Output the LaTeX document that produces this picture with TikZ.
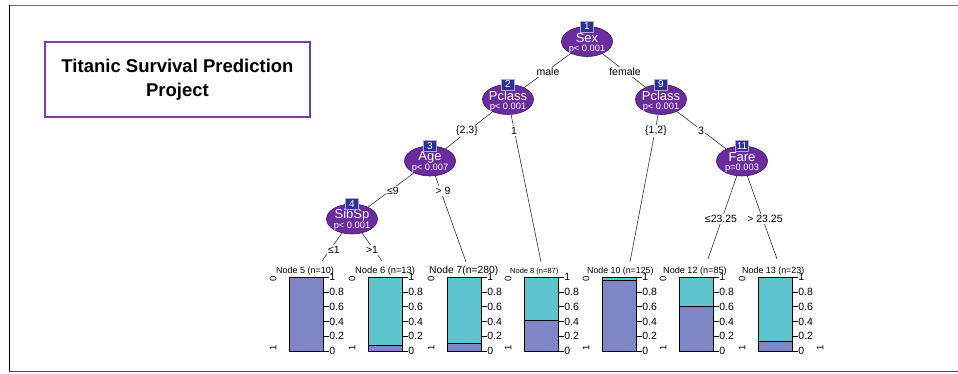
\documentclass[tikz,border=0pt]{standalone}
\usepackage{fontspec}
\setmainfont{Liberation Sans}
\usetikzlibrary{shapes.geometric}
\pgfdeclarelayer{bg}
\pgfsetlayers{bg,main}
\definecolor{nodepurple}{HTML}{6A2C9E}
\definecolor{nodeedge}{HTML}{3A1560}
\definecolor{numblue}{HTML}{2E3192}
\definecolor{barpurple}{HTML}{7F86C6}
\definecolor{barteal}{HTML}{5EC5CE}
\definecolor{titlepurple}{HTML}{7A3DAA}
\tikzset{
  splitnode/.style={ellipse, fill=nodepurple, draw=nodeedge, line width=0.6, minimum width=51, minimum height=30, inner sep=0},
  vartext/.style={inner sep=0, text=white, font=\fontsize{13}{13}\selectfont},
  ptext/.style={inner sep=0, text=white, font=\fontsize{9.3}{9.3}\selectfont},
  numbox/.style={rectangle, fill=numblue, draw=white!60!numblue, line width=0.5, minimum width=13, minimum height=11, inner sep=1, text=white, font=\fontsize{10}{10}\selectfont},
  edgeline/.style={draw=black!80, line width=0.6},
  edgelabel/.style={fill=white, inner sep=1, font=\fontsize{10.5}{11}\selectfont},
  ticklabel/.style={anchor=west, inner sep=0.5, font=\fontsize{10.5}{11}\selectfont},
  axislabel/.style={rotate=90, inner sep=0, font=\fontsize{9.5}{9.5}\selectfont},
}
\newcommand\splitn[6]{% name, x, y, number, variable, p-value
  \node[splitnode] (#1) at (#2,#3) {};
  \node[vartext] (#1var) at (#2,{#3-3.5}) {#5};
  \node[ptext] (#1p) at (#2,{#3+7.5}) {#6};
  \node[numbox] (#1num) at (#2,{#3-15}) {#4};
}
\newcommand\barpanel[6]{% left x, purple fraction, title, title left x, title size, name
  \fill[barteal] (#1,277) rectangle ++(34,74);
  \fill[barpurple] (#1,351) rectangle ++(34,{-74*#2});
  \draw[line width=0.7] (#1,{351-74*#2}) -- ++(34,0);
  \draw[line width=0.7] (#1,277) rectangle ++(34,74);
  \foreach \v in {0,0.2,0.4,0.6,0.8,1} {
    \draw[line width=0.6] ({#1+34},{351-74*\v}) -- ++(5.5,0) node[ticklabel] {\v};
  }
  \node[anchor=base west, inner sep=0, font=\fontsize{#5}{#5}\selectfont] (#6) at (#4,273.5) {#3};
  \node[axislabel] (#6zero) at ({#1-16},278.5) {0};
  \node[axislabel] (#6one) at ({#1-16},348) {1};
}
\begin{document}
\begin{tikzpicture}[x=1pt,y=-1pt]
\useasboundingbox (0,0) rectangle (958,374);
% outer frame
\draw[black!55, line width=1.2] (9,5.5) -- (958,5.5);
\draw[black, line width=1] (9,5.5) -- (9,371.5);
\draw[black!70, line width=1.2] (9,371.5) -- (958,371.5);

% title
\node[draw=titlepurple, line width=2, minimum width=265, minimum height=75, align=center,
      font=\fontsize{18.5}{24}\selectfont\bfseries] (title) at (177.5,79.5)
      {Titanic Survival Prediction\\Project};

% split nodes
\splitn{n1}{587}{41.5}{1}{Sex}{p< 0.001}
\splitn{n2}{508}{99.5}{2}{Pclass}{p< 0.001}
\splitn{n9}{661}{99.5}{9}{Pclass}{p< 0.001}
\splitn{n3}{430}{161}{3}{Age}{p< 0.007}
\splitn{n11}{742}{161}{11}{Fare}{p=0.003}
\splitn{n4}{352}{219}{4}{SibSp}{p< 0.001}

% terminal panels
\barpanel{289}{1.0}{Node 5 (n=10)}{276}{9}{t5}
\barpanel{368}{0.08}{Node 6 (n=13)}{355}{9.3}{t6}
\barpanel{447}{0.11}{Node 7(n=280)}{429}{10.3}{t7}
\barpanel{524}{0.42}{Node 8 (n=87)}{510}{7.5}{t8}
\barpanel{602}{0.95}{Node 10 (n=125)}{587}{8.8}{t10}
\barpanel{679}{0.60}{Node 12 (n=85)}{663}{9.1}{t12}
\barpanel{758}{0.13}{Node 13 (n=23)}{742}{8.9}{t13}
\node[axislabel] (stray) at (820,348) {1};

% connector end points
\coordinate (e5) at (322,261);
\coordinate (e6) at (382,261);
\coordinate (e7) at (466,262);
\coordinate (e8) at (541,262);
\coordinate (e10) at (630,262);
\coordinate (e12) at (708,259);
\coordinate (e13) at (777,259);

\begin{pgfonlayer}{bg}
  \draw[edgeline] (n1) -- (n2);
  \draw[edgeline] (n1) -- (n9);
  \draw[edgeline] (n2) -- (n3);
  \draw[edgeline] (n2) -- (e8);
  \draw[edgeline] (n9) -- (e10);
  \draw[edgeline] (n9) -- (n11);
  \draw[edgeline] (n3) -- (n4);
  \draw[edgeline] (n3) -- (e7);
  \draw[edgeline] (n4) -- (e5);
  \draw[edgeline] (n4) -- (e6);
  \draw[edgeline] (n11) -- (e12);
  \draw[edgeline] (n11) -- (e13);
\end{pgfonlayer}

% edge labels
\node[edgelabel] (lmale) at (548,72) {male};
\node[edgelabel] (lfemale) at (625,72) {female};
\node[edgelabel] (l23) at (467,131) {\{2,3\}};
\node[edgelabel] (l1) at (514,131) {1};
\node[edgelabel] (l12) at (656,131) {\{1,2\}};
\node[edgelabel] (l3) at (701,131) {3};
\node[edgelabel] (lle9) at (393,191) {≤9};
\node[edgelabel] (lgt9) at (443,191) {> 9};
\node[edgelabel] (lle1) at (334,250) {≤1};
\node[edgelabel] (lgt1) at (372,250) {>1};
\node[edgelabel] (lle23) at (721,219) {≤23.25};
\node[edgelabel] (lgt23) at (765,219) {> 23.25};
\end{tikzpicture}
\end{document}
